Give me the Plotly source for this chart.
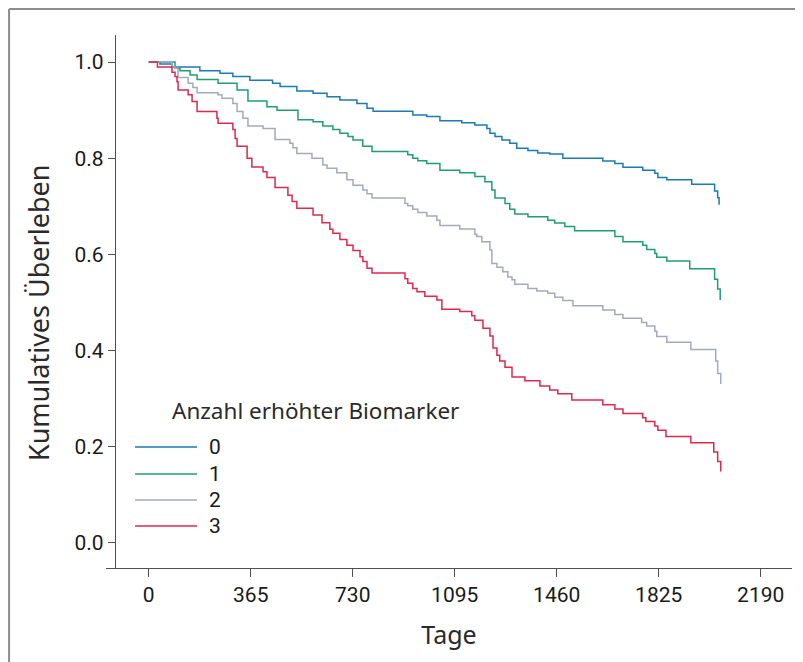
import plotly.graph_objects as go

# Kaplan-Meier step data (days, cumulative survival)
days_0 = [0, 40, 83, 183, 255, 301, 362, 443, 470, 530, 588, 638, 684, 745, 781, 803, 945, 995, 1042,
          1120, 1167, 1210, 1221, 1239, 1264, 1292, 1317, 1357, 1392, 1435, 1482, 1625, 1668, 1697,
          1768, 1811, 1822, 1854, 1943, 2025, 2036, 2041]
surv_0 = [1.000, 0.996, 0.990, 0.982, 0.977, 0.970, 0.962, 0.956, 0.949, 0.940, 0.935, 0.928, 0.921,
          0.914, 0.904, 0.898, 0.890, 0.887, 0.878, 0.874, 0.869, 0.862, 0.852, 0.845, 0.838, 0.831,
          0.821, 0.816, 0.811, 0.809, 0.800, 0.794, 0.789, 0.781, 0.775, 0.769, 0.760, 0.755, 0.746,
          0.732, 0.718, 0.703]

days_1 = [0, 94, 112, 148, 173, 248, 316, 355, 423, 459, 534, 588, 623, 659, 684, 713, 731, 766, 799,
          927, 945, 963, 995, 1042, 1113, 1167, 1203, 1228, 1239, 1275, 1292, 1310, 1357, 1428, 1453,
          1489, 1524, 1668, 1697, 1768, 1782, 1811, 1818, 1854, 1936, 2025, 2036, 2045]
surv_1 = [1.000, 0.987, 0.982, 0.973, 0.964, 0.956, 0.942, 0.919, 0.907, 0.900, 0.880, 0.876, 0.867,
          0.860, 0.852, 0.845, 0.838, 0.825, 0.814, 0.807, 0.800, 0.795, 0.789, 0.775, 0.770, 0.762,
          0.751, 0.734, 0.717, 0.706, 0.694, 0.684, 0.678, 0.671, 0.665, 0.658, 0.649, 0.637, 0.626,
          0.619, 0.610, 0.602, 0.594, 0.586, 0.570, 0.548, 0.528, 0.505]

days_2 = [0, 83, 94, 105, 141, 158, 173, 248, 262, 301, 316, 337, 355, 409, 452, 505, 516, 530, 584,
          623, 638, 673, 709, 731, 766, 781, 799, 917, 927, 945, 963, 995, 1031, 1042, 1113, 1167, 1174,
          1192, 1221, 1228, 1246, 1267, 1285, 1300, 1310, 1357, 1389, 1428, 1453, 1482, 1518, 1625,
          1668, 1697, 1764, 1782, 1811, 1818, 1854, 1940, 2029, 2036, 2047]
surv_2 = [1.000, 0.990, 0.987, 0.968, 0.956, 0.947, 0.936, 0.932, 0.925, 0.914, 0.897, 0.883, 0.867,
          0.862, 0.839, 0.831, 0.822, 0.810, 0.800, 0.786, 0.779, 0.770, 0.755, 0.744, 0.734, 0.726,
          0.717, 0.706, 0.701, 0.694, 0.687, 0.680, 0.671, 0.660, 0.653, 0.642, 0.637, 0.626, 0.609,
          0.581, 0.573, 0.564, 0.553, 0.547, 0.538, 0.529, 0.524, 0.519, 0.511, 0.504, 0.493, 0.484,
          0.475, 0.467, 0.458, 0.451, 0.440, 0.429, 0.417, 0.402, 0.378, 0.352, 0.330]

days_3 = [0, 31, 83, 94, 101, 105, 141, 155, 173, 244, 248, 301, 309, 316, 352, 369, 409, 423, 452,
          498, 513, 530, 588, 620, 648, 659, 684, 709, 731, 756, 766, 781, 799, 917, 927, 945, 960, 988,
          1031, 1049, 1113, 1156, 1167, 1196, 1221, 1232, 1246, 1256, 1275, 1300, 1346, 1400, 1435,
          1464, 1514, 1625, 1668, 1697, 1768, 1779, 1811, 1822, 1851, 1940, 2022, 2036, 2047]
surv_3 = [1.000, 0.990, 0.979, 0.970, 0.959, 0.942, 0.932, 0.918, 0.897, 0.883, 0.873, 0.860, 0.841,
          0.825, 0.800, 0.782, 0.772, 0.760, 0.739, 0.723, 0.710, 0.696, 0.682, 0.666, 0.652, 0.644,
          0.631, 0.619, 0.608, 0.595, 0.585, 0.571, 0.561, 0.549, 0.540, 0.529, 0.522, 0.513, 0.505,
          0.486, 0.481, 0.472, 0.463, 0.446, 0.430, 0.405, 0.390, 0.378, 0.365, 0.345, 0.337, 0.326,
          0.318, 0.310, 0.297, 0.287, 0.278, 0.269, 0.260, 0.252, 0.243, 0.234, 0.221, 0.208, 0.189,
          0.169, 0.148]

group_labels = ["0", "1", "2", "3"]
group_colors = ["#1b7bb4", "#1f9e74", "#a3aabd", "#e0284d"]
x_ticks = [0, 365, 730, 1095, 1460, 1825, 2190]
y_ticks = [0.0, 0.2, 0.4, 0.6, 0.8, 1.0]
legend_title = "Anzahl erhöhter Biomarker"
x_title = "Tage"
y_title = "Kumulatives Überleben"

series = [(days_0, surv_0), (days_1, surv_1), (days_2, surv_2), (days_3, surv_3)]

fig = go.Figure()
for (d, s), name, col in zip(series, group_labels, group_colors):
    fig.add_trace(go.Scatter(x=d, y=s, mode="lines", name=name, line_shape="hv",
                             line=dict(color=col, width=1.5), showlegend=False))

axis_col = "#505050"
tick_font = dict(family="Roboto, DejaVu Sans", size=21, color="#1a1a1a")

fig.update_layout(
    width=795, height=654,
    margin=dict(l=98, r=11, t=27, b=94),
    paper_bgcolor="white", plot_bgcolor="white",
    xaxis=dict(range=[-153, 2302], tickvals=x_ticks, ticks="outside", ticklen=8, tickwidth=1,
               tickcolor=axis_col, showline=True, linecolor=axis_col, linewidth=1.3,
               showgrid=False, zeroline=False, tickfont=tick_font,
               title=dict(text=x_title, standoff=20,
                          font=dict(family="Noto Sans, Open Sans", size=25, color="#2a2a2a"))),
    yaxis=dict(range=[-0.0526, 1.0564], tickvals=y_ticks, tickformat=".1f", ticks="outside",
               ticklen=7, tickwidth=1, tickcolor=axis_col, showline=True, linecolor=axis_col,
               linewidth=1.3, showgrid=False, zeroline=False, tickfont=tick_font,
               anchor="free", position=0.0131),
)

# y-axis title placed as in the reference (slightly below the plot centre)
fig.add_annotation(xref="paper", yref="paper", x=-0.0991, y=0.4784, text=y_title, textangle=-90,
                   showarrow=False, xanchor="center", yanchor="middle",
                   font=dict(family="Noto Sans, Open Sans", size=27, color="#2a2a2a"))

# outer frame (top and left gray border)
frame_col = "#8c8c8c"
fig.add_shape(type="line", xref="paper", yref="paper", x0=-0.1413, x1=1.03, y0=1.0488, y1=1.0488,
              line=dict(color=frame_col, width=2))
fig.add_shape(type="line", xref="paper", yref="paper", x0=-0.1413, x1=-0.1413, y0=-0.2, y1=1.0488,
              line=dict(color=frame_col, width=2))

# legend (drawn manually to match the layout)
fig.add_annotation(xref="paper", yref="paper", x=0.0933, y=0.2946, text=legend_title,
                   showarrow=False, xanchor="left", yanchor="middle",
                   font=dict(family="Noto Sans, Open Sans", size=22.5, color="#2a2a2a"))
leg_y = [0.2270, 0.1764, 0.1276, 0.0788]
for name, col, ly in zip(group_labels, group_colors, leg_y):
    fig.add_shape(type="line", xref="paper", yref="paper", x0=0.0423, x1=0.1327, y0=ly, y1=ly,
                  line=dict(color=col, width=1.5))
    fig.add_annotation(xref="paper", yref="paper", x=0.1472, y=ly, text=name, showarrow=False,
                       xanchor="left", yanchor="middle", font=tick_font)

fig.write_html("out.html")
